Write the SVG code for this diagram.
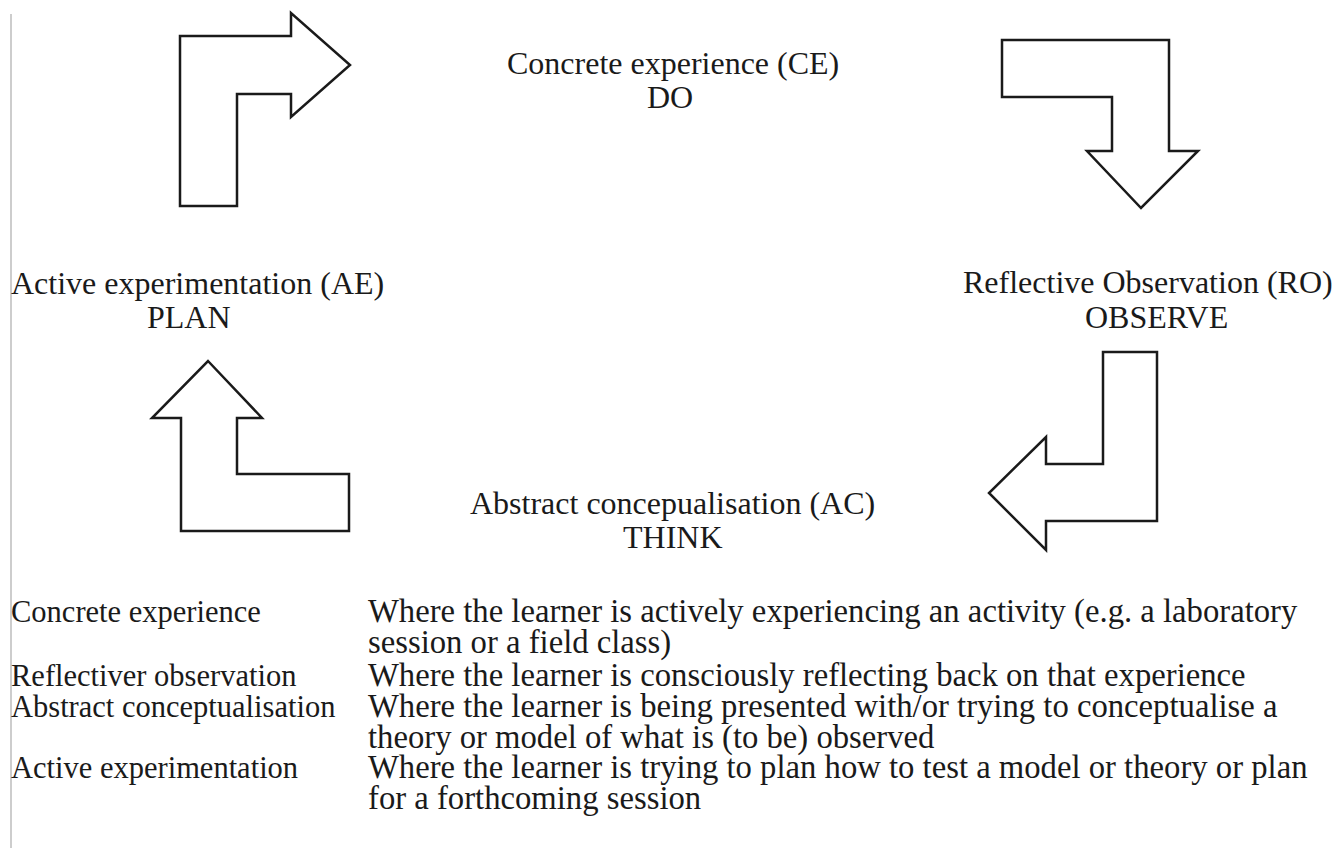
<svg xmlns="http://www.w3.org/2000/svg" width="1341" height="848" viewBox="0 0 1341 848">
  <style>
    text { font-family: "Liberation Serif", "Times New Roman", serif; fill: #1a1a1a; }
    .lbl { font-size: 32px; }
    .tbl { font-size: 32.7px; }
    .key { font-size: 30.5px; }
    .arr { fill: #ffffff; stroke: #1a1a1a; stroke-width: 2.5; stroke-linejoin: miter; }
  </style>
  <rect x="0" y="0" width="1341" height="848" fill="#ffffff"/>
  <line x1="11" y1="14" x2="11" y2="848" stroke="#bdbdbd" stroke-width="1.5"/>

  <g id="connectors">
    <polygon class="arr" points="180,36 291,36 291,13 350,65 291,117 291,94 237,94 237,206 180,206"/>
    <polygon class="arr" points="1002,40 1169,40 1169,151 1198,151 1141,208 1087,151 1112,151 1112,97 1002,97"/>
    <polygon class="arr" points="1103,352 1157,352 1157,521 1046,521 1046,550 989,493 1046,437 1046,464 1103,464"/>
    <polygon class="arr" points="208,361 262,418 237,418 237,474 349,474 349,531 181,531 181,418 152,418"/>
  </g>

  <g id="node-ce">
    <text class="lbl" x="507" y="74">Concrete experience (CE)</text>
    <text class="lbl" x="647" y="108">DO</text>
  </g>
  <g id="node-ae">
    <text class="lbl" x="11" y="294">Active experimentation (AE)</text>
    <text class="lbl" x="147" y="328">PLAN</text>
  </g>
  <g id="node-ro">
    <text class="lbl" x="963" y="293">Reflective Observation (RO)</text>
    <text class="lbl" x="1085" y="328">OBSERVE</text>
  </g>
  <g id="node-ac">
    <text class="lbl" x="470" y="514">Abstract concepualisation (AC)</text>
    <text class="lbl" x="623" y="548">THINK</text>
  </g>

  <g id="table">
    <text class="key" x="11" y="622">Concrete experience</text>
    <text class="tbl" x="368" y="622">Where the learner is actively experiencing an activity (e.g. a laboratory</text>
    <text class="tbl" x="368" y="653">session or a field class)</text>
    <text class="key" x="11" y="686">Reflectiver observation</text>
    <text class="tbl" x="368" y="686">Where the learner is consciously reflecting back on that experience</text>
    <text class="key" x="11" y="717">Abstract conceptualisation</text>
    <text class="tbl" x="368" y="717">Where the learner is being presented with/or trying to conceptualise a</text>
    <text class="tbl" x="368" y="748">theory or model of what is (to be) observed</text>
    <text class="key" x="11" y="778">Active experimentation</text>
    <text class="tbl" x="368" y="778">Where the learner is trying to plan how to test a model or theory or plan</text>
    <text class="tbl" x="368" y="809">for a forthcoming session</text>
  </g>
</svg>
